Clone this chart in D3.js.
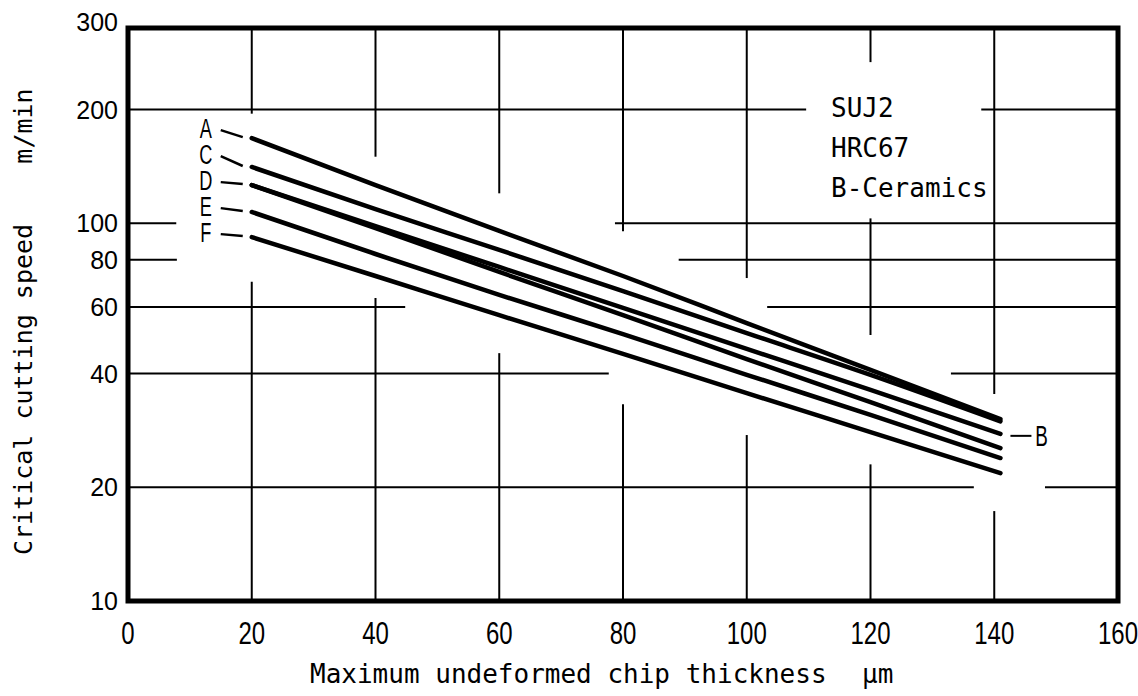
<!DOCTYPE html>
<html>
<head>
<meta charset="utf-8">
<script src="https://cdn.jsdelivr.net/npm/d3@7"></script>
<style>
  html, body { margin: 0; padding: 0; background: #fff; }
  svg { display: block; }
</style>
</head>
<body>
<div id="chart"></div>
<script>
// values: chip thickness (um) vs critical cutting speed (m/min)
const thickness = [20, 40, 60, 80, 100, 120, 141];
const speedA = [168, 126.2, 95.4, 72.5, 54.4, 40.9, 30.3];
const speedB = [126.2, 98.3, 76.6, 59.7, 46.5, 36.2, 27.7];
const speedC = [140.9, 109.0, 85.0, 66.1, 51.2, 39.7, 29.9];
const speedD = [126.2, 97.1, 74.3, 57.1, 43.7, 33.6, 25.4];
const speedE = [107.1, 82.9, 64.6, 50.9, 39.7, 31.1, 23.9];
const speedF = [91.9, 72.5, 57.1, 45.1, 35.5, 28.0, 21.8];

const seriesNames = ['A', 'B', 'C', 'D', 'E', 'F'];
const seriesValues = [speedA, speedB, speedC, speedD, speedE, speedF];
const leftLabelled = ['A', 'C', 'D', 'E', 'F'];
const rightLabelled = ['B'];

const xTickValues = [0, 20, 40, 60, 80, 100, 120, 140, 160];
const yTickValues = [10, 20, 40, 60, 80, 100, 200, 300];
const noteLines = ['SUJ2', 'HRC67', 'B-Ceramics'];
const xTitle = 'Maximum undeformed chip thickness';
const xUnit = 'μm';
const yTitle = 'Critical cutting speed    m/min';

// the grid in the original is drawn in broken pieces (data units; null = frame top)
const hGrid = [
  { v: 200, spans: [[0, 109.6], [137.9, 160]] },
  { v: 100, spans: [[0, 7.8], [78.7, 160]] },
  { v: 80, spans: [[0, 7.9], [89, 160]] },
  { v: 60, spans: [[0, 44.8], [103.3, 160]] },
  { v: 40, spans: [[0, 77.7], [133, 160]] },
  { v: 20, spans: [[0, 136.7], [148.2, 160]] }
];
const vGrid = [
  { h: 20, spans: [[10, 70], [195, null]] },
  { h: 40, spans: [[10, 63.4], [150, null]] },
  { h: 60, spans: [[10, 45.3], [120, null]] },
  { h: 80, spans: [[10, 33.2], [95.3, null]] },
  { h: 100, spans: [[10, 27.5], [71.6, null]] },
  { h: 120, spans: [[10, 23], [50.6, 103], [267, null]] },
  { h: 140, spans: [[10, 17.3], [35.3, null]] }
];

const width = 1138, height = 696;
const frameTop = 28;

const x = d3.scaleLinear().domain([0, 160]).range([128, 1118]);
const y = d3.scaleLog().domain([10, 300]).range([601, 43]);

const svg = d3.select('#chart')
  .append('svg')
  .attr('width', width)
  .attr('height', height);

svg.append('rect')
  .attr('width', width)
  .attr('height', height)
  .attr('fill', '#fff');

const yOf = v => v === null ? frameTop : y(v);

// grid pieces
const grid = svg.append('g')
  .attr('stroke', '#000')
  .attr('stroke-width', 2);

hGrid.forEach(g => {
  g.spans.forEach(s => {
    grid.append('line')
      .attr('x1', x(s[0])).attr('x2', x(s[1]))
      .attr('y1', y(g.v)).attr('y2', y(g.v));
  });
});

vGrid.forEach(g => {
  g.spans.forEach(s => {
    grid.append('line')
      .attr('x1', x(g.h)).attr('x2', x(g.h))
      .attr('y1', yOf(s[0])).attr('y2', yOf(s[1]));
  });
});

// frame
svg.append('rect')
  .attr('x', x(0))
  .attr('y', frameTop)
  .attr('width', x(160) - x(0))
  .attr('height', y(10) - frameTop)
  .attr('fill', 'none')
  .attr('stroke', '#000')
  .attr('stroke-width', 5);

// curves
const line = d3.line()
  .x(d => x(d[0]))
  .y(d => y(d[1]))
  .curve(d3.curveMonotoneX);

const series = seriesNames.map((name, i) => ({
  name: name,
  points: thickness.map((t, j) => [t, seriesValues[i][j]])
}));

svg.append('g')
  .selectAll('path')
  .data(series)
  .enter()
  .append('path')
  .attr('d', d => line(d.points))
  .attr('fill', 'none')
  .attr('stroke', '#000')
  .attr('stroke-width', 4.5)
  .attr('stroke-linecap', 'round')
  .attr('stroke-linejoin', 'round');

// curve labels on the left, stacked like the original
const labelFont = 'Liberation Sans, Arial, sans-serif';
const leftSeries = series.filter(s => leftLabelled.includes(s.name));
const stackTop = y(leftSeries[0].points[0][1]) - 10;

leftSeries.forEach((s, i) => {
  const x0 = x(s.points[0][0]);
  const y0 = y(s.points[0][1]);
  const cy = stackTop + i * 26;
  svg.append('line')
    .attr('x1', x0 - 31).attr('y1', cy + 2)
    .attr('x2', x0 - 9).attr('y2', y0 - 1)
    .attr('stroke', '#000')
    .attr('stroke-width', 2.5);
  svg.append('text')
    .attr('transform', 'translate(' + (x0 - 46) + ',' + (cy + 10) + ') scale(0.65,1)')
    .attr('text-anchor', 'middle')
    .attr('font-family', labelFont)
    .attr('font-size', 28)
    .text(s.name);
});

// curve label on the right
series.filter(s => rightLabelled.includes(s.name)).forEach(s => {
  const last = s.points[s.points.length - 1];
  const xe = x(last[0]);
  const ye = y(last[1]);
  svg.append('line')
    .attr('x1', xe + 10).attr('y1', ye + 2)
    .attr('x2', xe + 31).attr('y2', ye + 2)
    .attr('stroke', '#000')
    .attr('stroke-width', 2);
  svg.append('text')
    .attr('transform', 'translate(' + (xe + 41) + ',' + (ye + 12.5) + ') scale(0.65,1)')
    .attr('text-anchor', 'middle')
    .attr('font-family', labelFont)
    .attr('font-size', 29)
    .text(s.name);
});

// note
svg.append('g')
  .selectAll('text')
  .data(noteLines)
  .enter()
  .append('text')
  .attr('x', 831)
  .attr('y', (d, i) => 117 + i * 40)
  .attr('font-family', 'DejaVu Sans Mono, monospace')
  .attr('font-size', 26)
  .text(d => d);

// y tick labels
svg.append('g')
  .selectAll('text')
  .data(yTickValues)
  .enter()
  .append('text')
  .attr('x', 118)
  .attr('y', d => (d === 300 ? frameTop - 6 : y(d)) + 9)
  .attr('text-anchor', 'end')
  .attr('font-family', labelFont)
  .attr('font-size', 25)
  .text(d => d);

// x tick labels
svg.append('g')
  .selectAll('text')
  .data(xTickValues)
  .enter()
  .append('text')
  .attr('transform', d => 'translate(' + x(d) + ',644) scale(0.75,1)')
  .attr('text-anchor', 'middle')
  .attr('font-family', labelFont)
  .attr('font-size', 32)
  .text(d => d);

// axis titles
svg.append('text')
  .attr('x', 310)
  .attr('y', 683)
  .attr('font-family', 'DejaVu Sans Mono, monospace')
  .attr('font-size', 26)
  .text(xTitle);

svg.append('text')
  .attr('x', 862)
  .attr('y', 683)
  .attr('font-family', 'DejaVu Sans Mono, monospace')
  .attr('font-size', 26)
  .text(xUnit);

svg.append('text')
  .attr('transform', 'translate(32,555) rotate(-90)')
  .attr('font-family', 'DejaVu Sans Mono, monospace')
  .attr('font-size', 25)
  .attr('xml:space', 'preserve')
  .style('white-space', 'pre')
  .text(yTitle);
</script>
</body>
</html>
